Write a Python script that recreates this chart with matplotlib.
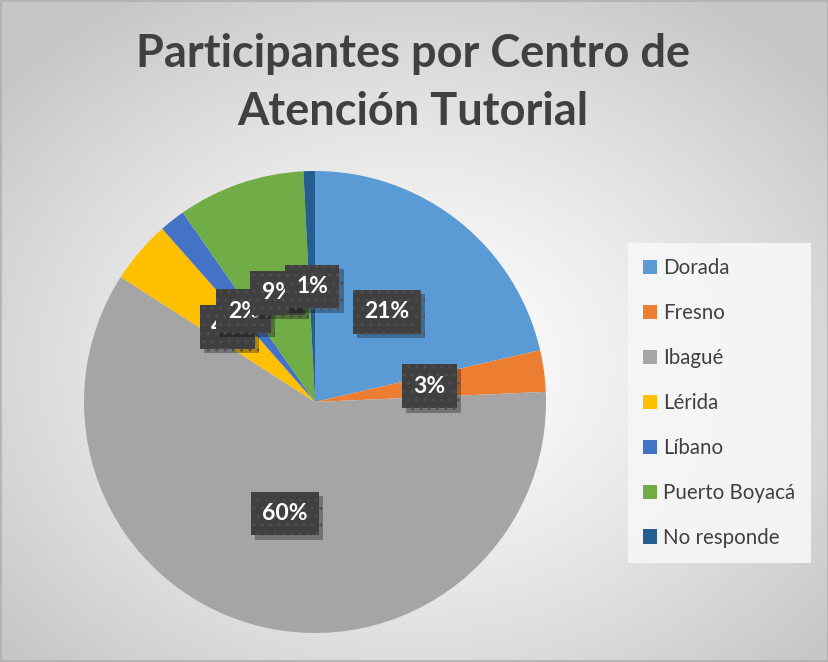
import numpy as np
import matplotlib
matplotlib.use("Agg")
import matplotlib.pyplot as plt
import matplotlib.patheffects as pe
from matplotlib.patches import Rectangle

categories = ["Dorada", "Fresno", "Ibagué", "Lérida", "Líbano", "Puerto Boyacá", "No responde"]
values = [21.4, 2.9, 59.8, 4.4, 1.8, 8.9, 0.8]
colors = ["#5B9BD5", "#ED7D31", "#A5A5A5", "#FFC000", "#4472C4", "#70AD47", "#255E91"]
title = "Participantes por Centro de\nAtención Tutorial"

plt.rcParams['font.family'] = ['Lato', 'DejaVu Sans']
plt.rcParams['hatch.linewidth'] = 0.9

W, H = 829, 662
fig = plt.figure(figsize=(W / 100, H / 100), dpi=100)

# radial gradient background
bg = fig.add_axes([0, 0, 1, 1], zorder=-10)
yy, xx = np.mgrid[0:H, 0:W]
cx, cy = W * 0.5, H * 0.55
d = np.sqrt(((xx - cx) / (W * 0.72)) ** 2 + ((yy - cy) / (H * 0.72)) ** 2)
d = np.clip(d / 0.9, 0, 1)
v = 1.0 - 0.22 * d ** 1.3
img = np.dstack([v, v, v])
bg.imshow(img, extent=[0, 1, 0, 1], aspect='auto', origin='upper')
bg.add_patch(Rectangle((0.001, 0.001), 0.998, 0.997, fill=False, edgecolor='#b0b0b0', lw=1.2,
                       transform=bg.transAxes))
bg.set_xlim(0, 1)
bg.set_ylim(0, 1)
bg.axis('off')

ax = fig.add_axes([84 / W, (H - 633) / H, 462 / W, 462 / H])
wedges, texts, autotexts = ax.pie(
    values, colors=colors, startangle=90, counterclock=False, radius=1.0,
    autopct=lambda p: f"{round(p):.0f}%", pctdistance=0.5,
    wedgeprops=dict(linewidth=0))
ax.set_xlim(-1, 1)
ax.set_ylim(-1, 1)
ax.set_aspect('equal')
ax.axis('off')

for t in autotexts:
    t.set_color('white')
    t.set_fontsize(16.5)
    t.set_fontweight('bold')
    t.set_bbox(dict(boxstyle='square,pad=0.5', facecolor='#404040', edgecolor='#4e4e4e',
                    linewidth=0, hatch='..'))
    t.get_bbox_patch().set_path_effects([
        pe.SimplePatchShadow(offset=(3, -3), shadow_rgbFace='black', alpha=0.3), pe.Normal()])

fig.text(413 / W, 1 - 83 / H, title, ha='center', va='center', fontsize=32.5,
         fontweight='bold', color='#404040', linespacing=1.45)

leg = fig.legend(wedges, categories, loc='upper left', bbox_to_anchor=(628 / W, 1 - 243 / H),
                 frameon=True, fontsize=14.8, labelcolor='#404040', handlelength=0.68,
                 handleheight=0.68, handletextpad=0.28, labelspacing=1.21, borderpad=0.75,
                 borderaxespad=0)
fr = leg.get_frame()
fr.set_facecolor('#f7f7f7')
fr.set_edgecolor('none')
fr.set_alpha(0.9)
fr.set_boxstyle('square', pad=0)

fig.savefig("out.png", dpi=100)
